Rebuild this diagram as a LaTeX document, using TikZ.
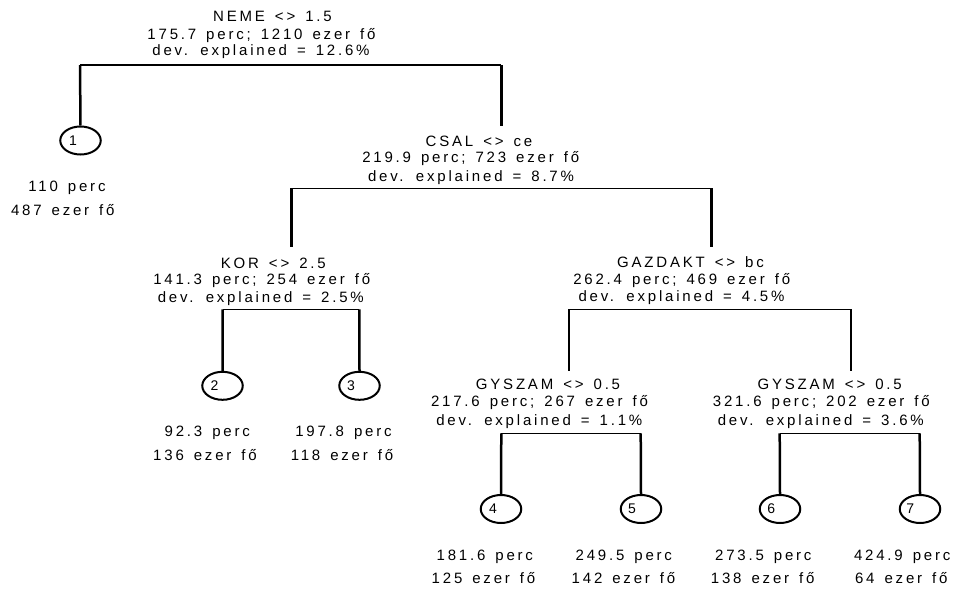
\documentclass[tikz,border=0pt]{standalone}
\usepackage{fontspec}
\setmainfont{Liberation Sans}[LetterSpace=18.7]
\newfontfamily\numfont{Liberation Sans}
\usetikzlibrary{shapes.geometric}
\newcommand\treelblfont{\fontsize{15}{18}\selectfont\spaceskip 10pt\relax}
\tikzset{
  lbl/.style={anchor=base, inner sep=0pt, font=\treelblfont},
  leafnum/.style={inner sep=0pt, font=\numfont\fontsize{14}{16}\selectfont},
  leafell/.style={draw, line width=2pt, ellipse, minimum width=40.5pt, minimum height=28pt, inner sep=0pt},
  hline/.style={line width=1.6pt},
  vline/.style={line width=2.5pt},
}
\begin{document}
\begin{tikzpicture}[x=1pt,y=-1pt]
\useasboundingbox[fill=white] (0,0) rectangle (956,589);
% split coordinates
\coordinate (h0l) at (80,65);      \coordinate (h0r) at (501.3,65);
\coordinate (c1top) at (501.3,126);
\coordinate (h1l) at (291.7,188.3); \coordinate (h1r) at (711.3,188.3);
\coordinate (k1top) at (291.7,246.7); \coordinate (g1top) at (711.3,246.7);
\coordinate (h2l) at (222.7,309.3); \coordinate (h2r) at (359.3,309.3);
\coordinate (h3l) at (569,309.3);   \coordinate (h3r) at (851,309.3);
\coordinate (y1top) at (569,370.7); \coordinate (y2top) at (851,370.7);
\coordinate (h4l) at (501.3,433.3); \coordinate (h4r) at (640.7,433.3);
\coordinate (h5l) at (779.7,433.3); \coordinate (h5r) at (919.7,433.3);
% leaves
\node[leafell] (L1) at (80.5,140.5) {};
\node[leafell] (L2) at (222.5,385.8) {};
\node[leafell] (L3) at (359.5,385.8) {};
\node[leafell] (L4) at (501,509) {};
\node[leafell] (L5) at (641,509) {};
\node[leafell] (L6) at (780,509) {};
\node[leafell] (L7) at (920,509) {};
\node[leafnum] (n1) at (73,140.5) {1};
\node[leafnum] (n2) at (214.5,385.8) {2};
\node[leafnum] (n3) at (351,385.8) {3};
\node[leafnum] (n4) at (493,509) {4};
\node[leafnum] (n5) at (632,509) {5};
\node[leafnum] (n6) at (771.3,509) {6};
\node[leafnum] (n7) at (910.3,509) {7};
% connectors
\draw[hline] (h0l) -- (h0r);
\draw[vline] (h0l) -- (L1.north);
\draw[vline] (h0r) -- (c1top);
\draw[hline] (h1l) -- (h1r);
\draw[vline] (h1l) -- (k1top);
\draw[vline] (h1r) -- (g1top);
\draw[hline] (h2l) -- (h2r);
\draw[vline] (h2l) -- (L2.north);
\draw[vline] (h2r) -- (L3.north);
\draw[hline] (h3l) -- (h3r);
\draw[vline] (h3l) -- (y1top);
\draw[vline] (h3r) -- (y2top);
\draw[hline] (h4l) -- (h4r);
\draw[vline] (h4l) -- (L4.north);
\draw[vline] (h4r) -- (L5.north);
\draw[hline] (h5l) -- (h5r);
\draw[vline] (h5l) -- (L6.north);
\draw[vline] (h5r) -- (L7.north);
% internal node texts
\node[lbl] (r1) at (272.5,21.6) {NEME <> 1.5};
\node[lbl] (r2) at (261.5,39) {175.7 perc; 1210 ezer fő};
\node[lbl] (r3) at (261,55.3) {dev. explained = 12.6\%};
\node[lbl] (c1) at (479,146) {CSAL <> ce};
\node[lbl] (c2) at (470.7,162) {219.9 perc; 723 ezer fő};
\node[lbl] (c3) at (471,181.2) {dev. explained = 8.7\%};
\node[lbl] (k1) at (273.3,268.3) {KOR <> 2.5};
\node[lbl] (k2) at (261.7,284.3) {141.3 perc; 254 ezer fő};
\node[lbl] (k3) at (260.8,302.3) {dev. explained = 2.5\%};
\node[lbl] (g1) at (690.5,267.7) {GAZDAKT <> bc};
\node[lbl] (g2) at (681.7,284.3) {262.4 perc; 469 ezer fő};
\node[lbl] (g3) at (681.5,301.7) {dev. explained = 4.5\%};
\node[lbl] (ya1) at (548,389.3) {GYSZAM <> 0.5};
\node[lbl] (ya2) at (539.5,406.7) {217.6 perc; 267 ezer fő};
\node[lbl] (ya3) at (539.3,425) {dev. explained = 1.1\%};
\node[lbl] (yb1) at (829.7,389.3) {GYSZAM <> 0.5};
\node[lbl] (yb2) at (821.3,406.7) {321.6 perc; 202 ezer fő};
\node[lbl] (yb3) at (820.8,425) {dev. explained = 3.6\%};
% leaf texts
\node[lbl] (t1a) at (67,191.7) {110 perc};
\node[lbl] (t1b) at (62.8,215) {487 ezer fő};
\node[lbl] (t2a) at (207.3,436.7) {92.3 perc};
\node[lbl] (t2b) at (205,460.7) {136 ezer fő};
\node[lbl] (t3a) at (343.5,436.7) {197.8 perc};
\node[lbl] (t3b) at (342,460.7) {118 ezer fő};
\node[lbl] (t4a) at (484.8,560) {181.6 perc};
\node[lbl] (t4b) at (483.5,583.3) {125 ezer fő};
\node[lbl] (t5a) at (623.8,560) {249.5 perc};
\node[lbl] (t5b) at (623.5,583.3) {142 ezer fő};
\node[lbl] (t6a) at (763.3,560) {273.5 perc};
\node[lbl] (t6b) at (762.7,583.3) {138 ezer fő};
\node[lbl] (t7a) at (902.2,560) {424.9 perc};
\node[lbl] (t7b) at (901.3,583.3) {64 ezer fő};
\end{tikzpicture}
\end{document}
